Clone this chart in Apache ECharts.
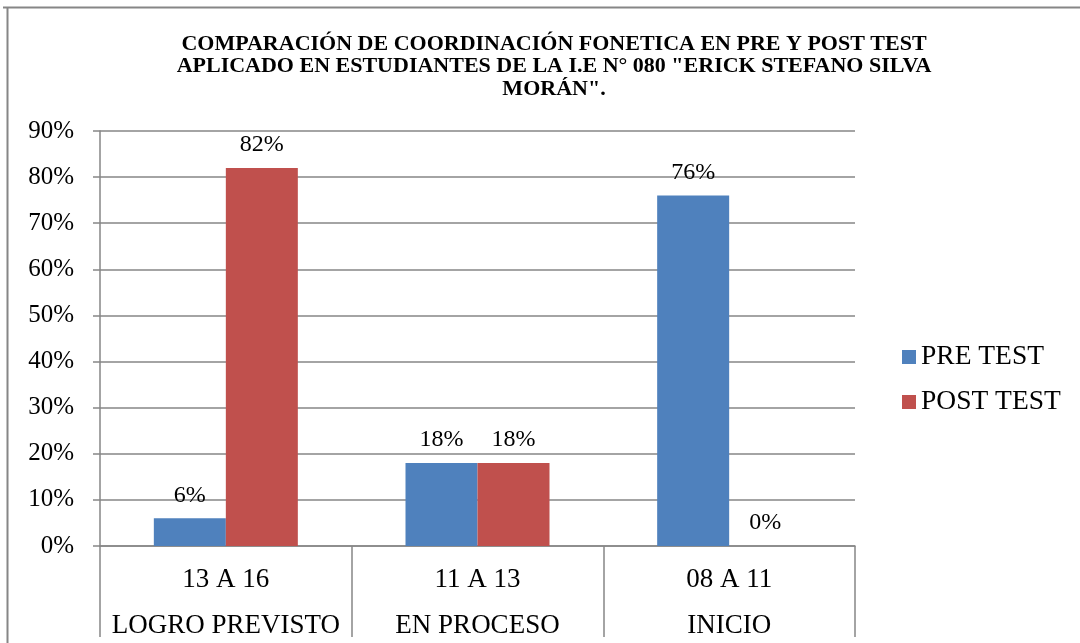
<!DOCTYPE html>
<html>
<head>
<meta charset="utf-8">
<script src="https://cdn.jsdelivr.net/npm/echarts@6/dist/echarts.min.js"></script>
<style>
html,body{margin:0;padding:0;background:#fff;}
#chart{width:1080px;height:643px;}
</style>
</head>
<body>
<div id="chart"></div>
<script>
const rangeLabels = ["13 A 16", "11 A 13", "08 A 11"];
const groupLabels = ["LOGRO PREVISTO", "EN PROCESO", "INICIO"];
const preTest = [6, 18, 76];
const postTest = [82, 18, 0];
const seriesNames = ["PRE TEST", "POST TEST"];
const titleText = "COMPARACIÓN DE COORDINACIÓN FONETICA EN PRE Y POST TEST\nAPLICADO EN ESTUDIANTES DE LA I.E N° 080 \"ERICK STEFANO SILVA\nMORÁN\".";

const FONT = "'Liberation Serif', 'Times New Roman', serif";
const chart = echarts.init(document.getElementById('chart'));
const categories = rangeLabels.map((r, i) => r + "|" + groupLabels[i]);

const option = {
  animation: false,
  backgroundColor: '#ffffff',
  title: {
    text: titleText,
    left: 549,
    textAlign: 'center',
    top: 28,
    textStyle: {
      fontFamily: FONT,
      fontWeight: 'bold',
      fontSize: 22,
      lineHeight: 22.5,
      color: '#000'
    }
  },
  legend: {
    orient: 'vertical',
    left: 897,
    top: 338,
    itemWidth: 14,
    itemHeight: 14,
    itemGap: 17,
    icon: 'rect',
    textStyle: { fontFamily: FONT, fontSize: 27.5, color: '#000' },
    data: seriesNames
  },
  grid: { left: 100, right: 225, top: 131, bottom: 97, containLabel: false },
  xAxis: {
    type: 'category',
    data: categories,
    axisLine: { show: true, lineStyle: { color: '#868686', width: 1.5 } },
    axisTick: { show: true, length: 91, lineStyle: { color: '#868686', width: 1.5 } },
    axisLabel: {
      margin: 11,
      formatter: function (v) {
        const p = v.split('|');
        return '{a|' + p[0] + '}\n{b|' + p[1] + '}';
      },
      rich: {
        a: { fontFamily: FONT, fontSize: 27, color: '#000', lineHeight: 46 },
        b: { fontFamily: FONT, fontSize: 27, color: '#000', lineHeight: 46 }
      }
    }
  },
  yAxis: {
    type: 'value',
    min: 0,
    max: 90,
    interval: 10,
    axisLine: { show: true, lineStyle: { color: '#868686', width: 1.5 } },
    axisTick: { show: true, length: 7, lineStyle: { color: '#868686', width: 1.5 } },
    splitLine: { show: true, lineStyle: { color: '#868686', width: 1.5 } },
    axisLabel: {
      margin: 26,
      formatter: '{value}%',
      fontFamily: FONT,
      fontSize: 25,
      color: '#000'
    }
  },
  series: [
    {
      name: seriesNames[0],
      type: 'bar',
      data: preTest,
      barWidth: 72,
      barGap: '0%',
      itemStyle: { color: '#4F81BD' },
      label: { show: true, position: 'top', distance: 11, formatter: '{c}%', fontFamily: FONT, fontSize: 24, color: '#000' }
    },
    {
      name: seriesNames[1],
      type: 'bar',
      data: postTest,
      barWidth: 72,
      itemStyle: { color: '#C0504D' },
      label: { show: true, position: 'top', distance: 11, formatter: '{c}%', fontFamily: FONT, fontSize: 24, color: '#000' }
    }
  ],
  graphic: [
    { type: 'line', shape: { x1: 3, y1: 7.5, x2: 1080, y2: 7.5 }, style: { stroke: '#868686', lineWidth: 2 } },
    { type: 'line', shape: { x1: 7.5, y1: 7, x2: 7.5, y2: 643 }, style: { stroke: '#868686', lineWidth: 2 } }
  ]
};
chart.setOption(option);
</script>
</body>
</html>
